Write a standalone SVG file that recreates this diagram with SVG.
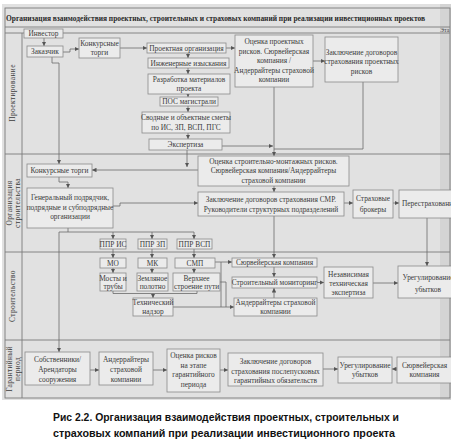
<svg xmlns="http://www.w3.org/2000/svg" width="455" height="441" viewBox="0 0 455 441">
<style>
.n rect{fill:#ebebeb;stroke:#8a8a8a;stroke-width:0.8}
.n text,.lab{font-family:"Liberation Serif",serif;font-size:7.4px;fill:#3c3c3c;text-anchor:middle}
.ln{fill:none;stroke:#6a6a6a;stroke-width:0.8}
.ar{fill:none;stroke:#6a6a6a;stroke-width:0.8;marker-end:url(#ah)}
.frame{fill:none;stroke:#7a7a7a;stroke-width:0.9}
.cap{font-family:"Liberation Sans",Arial,sans-serif;font-weight:bold;font-size:11.5px;fill:#111}
</style>
<defs>
<marker id="ah" viewBox="0 0 6 6" refX="6" refY="3" markerWidth="4.5" markerHeight="4.5" markerUnits="userSpaceOnUse" orient="auto"><path d="M0,0 L6,3 L0,6 z" fill="#555"/></marker>
<clipPath id="scan"><rect x="2" y="4" width="449" height="396"/></clipPath>
</defs>
<rect width="455" height="441" fill="#ffffff"/>
<g clip-path="url(#scan)">
<rect x="2" y="4" width="450" height="396" fill="#e1e1e1"/>
<rect x="440" y="4" width="12" height="396" fill="#d4d4d4"/>
<g id="frame">
<rect class="frame" x="5" y="8" width="445" height="390"/>
<line class="frame" x1="5" y1="27" x2="450" y2="27"/>
<line class="frame" x1="5" y1="33" x2="450" y2="33"/>
<line class="frame" x1="22" y1="33" x2="22" y2="398"/>
<line class="frame" x1="5" y1="154" x2="450" y2="154"/>
<line class="frame" x1="5" y1="252" x2="450" y2="252"/>
<line class="frame" x1="5" y1="340" x2="450" y2="340"/>
<text x="6" y="20.5" textLength="419" lengthAdjust="spacingAndGlyphs" style="font-family:'Liberation Serif',serif;font-weight:bold;font-size:8px;fill:#2a2a2a">Организация взаимодействия проектных, строительных и страховых компаний при реализации инвестиционных проектов</text>
<text x="440" y="32" style="font-family:'Liberation Serif',serif;font-size:6px;fill:#444">Эта</text>
<text class="lab" transform="translate(15,93) rotate(-90)" letter-spacing="0.4">Проектирование</text>
<text class="lab" transform="translate(11.5,203) rotate(-90)" letter-spacing="0.4">Организация</text>
<text class="lab" transform="translate(19.5,203) rotate(-90)" letter-spacing="0.4">строительства</text>
<text class="lab" transform="translate(15,296) rotate(-90)" letter-spacing="0.4">Строительство</text>
<text class="lab" transform="translate(11.5,369) rotate(-90)" letter-spacing="0.3">Гарантийный</text>
<text class="lab" transform="translate(19.5,369) rotate(-90)" letter-spacing="0.3">период</text>
</g>
<g id="connectors">
<path class="ar" d="M44,38 L44,46"/>
<path class="ar" d="M63,52 L70,52 L70,49 L79,49"/>
<path class="ar" d="M120,48 L147,48"/>
<path class="ar" d="M226,48 L235,48"/>
<path class="ar" d="M313,61 L325,61"/>
<path class="ar" d="M188,53 L188,58"/>
<path class="ar" d="M188,68 L188,74"/>
<path class="ar" d="M188,94 L188,97"/>
<path class="ar" d="M188,106 L188,112"/>
<path class="ar" d="M188,133 L188,139"/>
<path class="ar" d="M274,87 L274,156"/>
<path class="ln" d="M363,82 L363,149 L274,149"/>
<path class="ar" d="M222,146 L273,146"/>
<path class="ar" d="M187,150 L187,167"/>
<path class="ar" d="M198,170 L92,170"/>
<path class="ar" d="M52,57 L52,63 L59,63 L59,164"/>
<path class="ar" d="M59,177 L59,182 L68,182 L68,188"/>
<path class="ar" d="M113,206 L120,206 L120,203 L198,203"/>
<path class="ar" d="M274,186 L274,192"/>
<path class="ar" d="M344,203 L353,203"/>
<path class="ar" d="M393,203 L399,203"/>
<path class="ar" d="M427,218 L427,266"/>
<path class="ln" d="M68,228 L68,232 M59,232 L194,232"/>
<path class="ar" d="M113,232 L113,239"/>
<path class="ar" d="M152,232 L152,239"/>
<path class="ar" d="M194,232 L194,239"/>
<path class="ar" d="M59,232 L59,352"/>
<path class="ar" d="M113,249 L113,258"/>
<path class="ar" d="M152,249 L152,258"/>
<path class="ar" d="M194,249 L194,258"/>
<path class="ar" d="M113,268 L113,273"/>
<path class="ar" d="M152,268 L152,273"/>
<path class="ar" d="M194,268 L194,273"/>
<path class="ln" d="M113,291 L113,293.5 L197,293.5 L197,291"/>
<path class="ar" d="M153,293.5 L153,298"/>
<path class="ar" d="M215,262 L232,262"/>
<path class="ln" d="M221,262 L221,307 M220,282 L226,282 L226,307"/>
<path class="ar" d="M173,307 L234,307"/>
<path class="ar" d="M274,216 L274,258"/>
<path class="ar" d="M274,267 L274,277"/>
<path class="ar" d="M274,298 L274,288"/>
<path class="ar" d="M317,282.5 L324,282.5"/>
<path class="ar" d="M373,283 L398,283"/>
<path class="ar" d="M90,370 L99,370"/>
<path class="ar" d="M153,370 L167,370"/>
<path class="ar" d="M220,370 L228,370"/>
<path class="ar" d="M323,369 L338,369"/>
<path class="ar" d="M397,369 L392,369"/>
</g>
<g id="investor" class="n"><rect x="24" y="29" width="39" height="9"/><text x="43.5" y="36">Инвестор</text></g>
<g id="customer" class="n"><rect x="27" y="46" width="36" height="11"/><text x="45" y="54">Заказчик</text></g>
<g id="tender1" class="n"><rect x="79" y="38" width="41" height="20"/><text x="99.5" y="46">Конкурсные</text><text x="99.5" y="55">торги</text></g>
<g id="design_org" class="n"><rect x="147" y="43" width="79" height="10"/><text x="186.5" y="50.5">Проектная организация</text></g>
<g id="survey" class="n"><rect x="148" y="58" width="81" height="10"/><text x="188.5" y="65.5">Инженерные изыскания</text></g>
<g id="develop" class="n"><rect x="148" y="74" width="82" height="20"/><text x="189" y="81.5">Разработка материалов</text><text x="189" y="91">проекта</text></g>
<g id="pos" class="n"><rect x="160" y="97" width="58" height="9"/><text x="189" y="104">ПОС магистрали</text></g>
<g id="estimates" class="n"><rect x="142" y="112" width="88" height="21"/><text x="186" y="120">Сводные и объектные сметы</text><text x="186" y="129.5">по ИС, ЗП, ВСП, ПГС</text></g>
<g id="expertise" class="n"><rect x="149" y="139" width="73" height="11"/><text x="185.5" y="147">Экспертиза</text></g>
<g id="risk_design" class="n"><rect x="235" y="35" width="78" height="52"/><text x="274" y="44">Оценка проектных</text><text x="274" y="53.5">рисков. Сюрвейерская</text><text x="274" y="63">компания /</text><text x="274" y="72.5">Андеррайтеры страховой</text><text x="274" y="82">компании</text></g>
<g id="contract_design" class="n"><rect x="325" y="37" width="73" height="45"/><text x="361.5" y="54.5">Заключение договоров</text><text x="361.5" y="64">страхования проектных</text><text x="361.5" y="73.5">рисков</text></g>
<g id="tender2" class="n"><rect x="27" y="164" width="65" height="13"/><text x="59.5" y="173">Конкурсные торги</text></g>
<g id="general" class="n"><rect x="27" y="188" width="86" height="40"/><text x="70" y="200">Генеральный подрядчик,</text><text x="70" y="209.5">подрядные и субподрядные</text><text x="70" y="219">организации</text></g>
<g id="risk_smr" class="n"><rect x="198" y="156" width="151" height="30"/><text x="273.5" y="163.5">Оценка строительно-монтажных рисков.</text><text x="273.5" y="173">Сюрвейерская компания/Андеррайтеры</text><text x="273.5" y="182.5">страховой компании</text></g>
<g id="contract_smr" class="n"><rect x="198" y="192" width="146" height="24"/><text x="271" y="201.5">Заключение договоров страхования СМР.</text><text x="271" y="211.5">Руководители структурных подразделений</text></g>
<g id="brokers" class="n"><rect x="353" y="190" width="40" height="28"/><text x="373" y="201">Страховые</text><text x="373" y="212">брокеры</text></g>
<g id="reinsurance" class="n"><rect x="399" y="190" width="56" height="28"/><text x="402" y="206" style="text-anchor:start">Перестрахование</text></g>
<g id="ppr_is" class="n"><rect x="100" y="239" width="26" height="10"/><text x="113" y="246.5">ППР ИС</text></g>
<g id="ppr_zp" class="n"><rect x="138" y="239" width="29" height="10"/><text x="152.5" y="246.5">ППР ЗП</text></g>
<g id="ppr_vsp" class="n"><rect x="177" y="239" width="35" height="10"/><text x="194.5" y="246.5">ППР ВСП</text></g>
<g id="mo" class="n"><rect x="100" y="258" width="26" height="10"/><text x="113" y="265.5">МО</text></g>
<g id="mk" class="n"><rect x="138" y="258" width="29" height="10"/><text x="152.5" y="265.5">МК</text></g>
<g id="smp" class="n"><rect x="175" y="258" width="40" height="10"/><text x="195" y="265.5">СМП</text></g>
<g id="bridges" class="n"><rect x="100" y="273" width="26" height="18"/><text x="113" y="280.5">Мосты и</text><text x="113" y="289">трубы</text></g>
<g id="roadbed" class="n"><rect x="137" y="273" width="31" height="18"/><text x="152.5" y="280.5">Земляное</text><text x="152.5" y="289">полотно</text></g>
<g id="track" class="n"><rect x="173" y="273" width="47" height="18"/><text x="196.5" y="280.5">Верхнее</text><text x="196.5" y="289">строение пути</text></g>
<g id="supervision" class="n"><rect x="133" y="298" width="40" height="18"/><text x="153" y="305">Технический</text><text x="153" y="314">надзор</text></g>
<g id="surveyor" class="n"><rect x="232" y="258" width="85" height="9"/><text x="274.5" y="265">Сюрвейерская компания</text></g>
<g id="monitoring" class="n"><rect x="232" y="277" width="85" height="11"/><text x="274.5" y="285">Строительный мониторинг</text></g>
<g id="underwriters" class="n"><rect x="234" y="298" width="83" height="18"/><text x="275.5" y="305">Андеррайтеры страховой</text><text x="275.5" y="314">компании</text></g>
<g id="independent" class="n"><rect x="324" y="267" width="49" height="31"/><text x="348.5" y="276.5">Независимая</text><text x="348.5" y="285.5">техническая</text><text x="348.5" y="294.5">экспертиза</text></g>
<g id="settlement1" class="n"><rect x="398" y="266" width="57" height="32"/><text x="428" y="280">Урегулирование</text><text x="428" y="291.5">убытков</text></g>
<g id="owners" class="n"><rect x="25" y="352" width="65" height="33"/><text x="57.5" y="362">Собственники/</text><text x="57.5" y="372">Арендаторы</text><text x="57.5" y="381.5">сооружения</text></g>
<g id="underwriters2" class="n"><rect x="99" y="352" width="54" height="33"/><text x="126" y="362">Андеррайтеры</text><text x="126" y="372">страховой</text><text x="126" y="381.5">компании</text></g>
<g id="risk_warranty" class="n"><rect x="167" y="349" width="53" height="43"/><text x="193.5" y="358">Оценка рисков</text><text x="193.5" y="367.5">на этапе</text><text x="193.5" y="377">гарантийного</text><text x="193.5" y="386.5">периода</text></g>
<g id="contract_warranty" class="n"><rect x="228" y="353" width="95" height="33"/><text x="275.5" y="364">Заключение договоров</text><text x="275.5" y="373.5">страхования послепусковых</text><text x="275.5" y="383">гарантийных обязательств</text></g>
<g id="settlement2" class="n"><rect x="338" y="357" width="54" height="26"/><text x="365" y="367.5">Урегулирование</text><text x="365" y="377">убытков</text></g>
<g id="surveyor2" class="n"><rect x="397" y="357" width="55" height="26"/><text x="424.5" y="367.5">Сюрвейерская</text><text x="424.5" y="377">компания</text></g>
</g>
<text class="cap" x="53" y="421" textLength="346" lengthAdjust="spacingAndGlyphs">Рис 2.2. Организация взаимодействия проектных, строительных и</text>
<text class="cap" x="53" y="436.5" textLength="342" lengthAdjust="spacingAndGlyphs">страховых компаний при реализации инвестиционного проекта</text>
</svg>
